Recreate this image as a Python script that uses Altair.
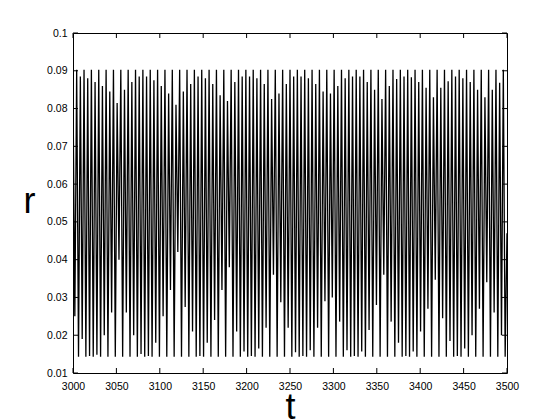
import altair as alt
import pandas as pd

# ---- data ----
T_START = 3000.0
T_END = 3500.0
N_CYCLES = 59
PEAK_A = 0.0903      # main peaks (flat top)
TROUGH_D = 0.0143    # deep troughs (flat bottom)

peak_b = [0.0845, 0.0885, 0.0880, 0.0870, 0.0860, 0.0845, 0.0815, 0.0850, 0.0870, 0.0885,
          0.0885, 0.0875, 0.0860, 0.0840, 0.0810, 0.0845, 0.0865, 0.0885, 0.0880, 0.0865,
          0.0835, 0.0820, 0.0870, 0.0885, 0.0885, 0.0880, 0.0865, 0.0825, 0.0840, 0.0865,
          0.0885, 0.0885, 0.0880, 0.0865, 0.0845, 0.0840, 0.0860, 0.0880, 0.0885,
          0.0885, 0.0870, 0.0850, 0.0825, 0.0860, 0.0878, 0.0885, 0.0883, 0.0870, 0.0855,
          0.0830, 0.0855, 0.0872, 0.0885, 0.0880, 0.0870, 0.0850, 0.0830, 0.0850, 0.0868]

trough_c = [0.0250, 0.0190, 0.0145, 0.0148, 0.0200, 0.0260, 0.0400, 0.0260, 0.0200, 0.0150,
            0.0145, 0.0180, 0.0250, 0.0320, 0.0420, 0.0275, 0.0210, 0.0145, 0.0180, 0.0240,
            0.0320, 0.0380, 0.0210, 0.0157, 0.0145, 0.0165, 0.0220, 0.0360, 0.0287, 0.0220,
            0.0155, 0.0145, 0.0160, 0.0220, 0.0290, 0.0300, 0.0236, 0.0160, 0.0145,
            0.0157, 0.0214, 0.0280, 0.0360, 0.0236, 0.0180, 0.0145, 0.0157, 0.0210, 0.0270,
            0.0347, 0.0245, 0.0185, 0.0145, 0.0165, 0.0200, 0.0270, 0.0340, 0.0260, 0.0200]

END_VALUE = 0.047

x_ticks = [3000, 3050, 3100, 3150, 3200, 3250, 3300, 3350, 3400, 3450, 3500]
y_ticks = [0.01, 0.02, 0.03, 0.04, 0.05, 0.06, 0.07, 0.08, 0.09, 0.1]

# ---- build table ----
P = (T_END - T_START) / N_CYCLES
rows = []
for i in range(N_CYCLES):
    t0 = T_START + i * P
    rows.append((t0, peak_b[i]))
    rows.append((t0 + 0.25 * P, trough_c[i]))
    rows.append((t0 + 0.5 * P, PEAK_A))
    rows.append((t0 + 0.75 * P, TROUGH_D))
rows.append((T_END, END_VALUE))
df = pd.DataFrame(rows, columns=["t", "r"])

W, H = 434, 340
FONT = "Liberation Sans"

xs = alt.Scale(domain=[3000, 3500], nice=False, zero=False)
ys = alt.Scale(domain=[0.01, 0.1], nice=False, zero=False)

x_axis = alt.Axis(values=x_ticks, format="d", ticks=False, domain=False, grid=False,
                  labelOverlap=False, labelFlush=False, labelBound=False,
                  labelFont=FONT, labelFontSize=10.5, labelColor="black", labelPadding=8,
                  title="t", titleFont=FONT, titleFontSize=36, titleFontWeight="normal",
                  titleColor="black", titleX=217, titleY=45, titleBaseline="alphabetic")
y_axis = alt.Axis(values=y_ticks, labelExpr="format(datum.value, '~g')", ticks=False,
                  domain=False, grid=False, labelOverlap=False, labelFlush=False,
                  labelBound=False, labelFont=FONT, labelFontSize=10.5,
                  labelColor="black", labelPadding=6,
                  title="r", titleFont=FONT, titleFontSize=36, titleFontWeight="normal",
                  titleColor="black", titleAngle=0, titleX=-44, titleY=179,
                  titleAlign="center", titleBaseline="alphabetic")

line = alt.Chart(df).mark_line(color="black", strokeWidth=1.3, clip=True).encode(
    x=alt.X("t:Q", scale=xs, axis=x_axis),
    y=alt.Y("r:Q", scale=ys, axis=y_axis),
    order="t:Q",
)

xt = pd.DataFrame({"t": x_ticks})
yt = pd.DataFrame({"r": y_ticks})
TL = 5
bottom_ticks = alt.Chart(xt).mark_rule(color="black", strokeWidth=1).encode(
    x=alt.X("t:Q", scale=xs, axis=x_axis), y=alt.value(H), y2=alt.value(H - TL))
top_ticks = alt.Chart(xt).mark_rule(color="black", strokeWidth=1).encode(
    x=alt.X("t:Q", scale=xs, axis=x_axis), y=alt.value(0), y2=alt.value(TL))
left_ticks = alt.Chart(yt).mark_rule(color="black", strokeWidth=1).encode(
    y=alt.Y("r:Q", scale=ys, axis=y_axis), x=alt.value(0), x2=alt.value(TL))
right_ticks = alt.Chart(yt).mark_rule(color="black", strokeWidth=1).encode(
    y=alt.Y("r:Q", scale=ys, axis=y_axis), x=alt.value(W), x2=alt.value(W - TL))

chart = alt.layer(line, bottom_ticks, top_ticks, left_ticks, right_ticks).properties(
    width=W, height=H,
    autosize=alt.AutoSizeParams(type="none"),
    padding={"left": 65, "top": 25, "right": 45, "bottom": 60},
    background="white",
).configure_view(stroke="black", strokeWidth=1)

chart.save("out.html", embed_options={"renderer": "svg", "actions": False})
